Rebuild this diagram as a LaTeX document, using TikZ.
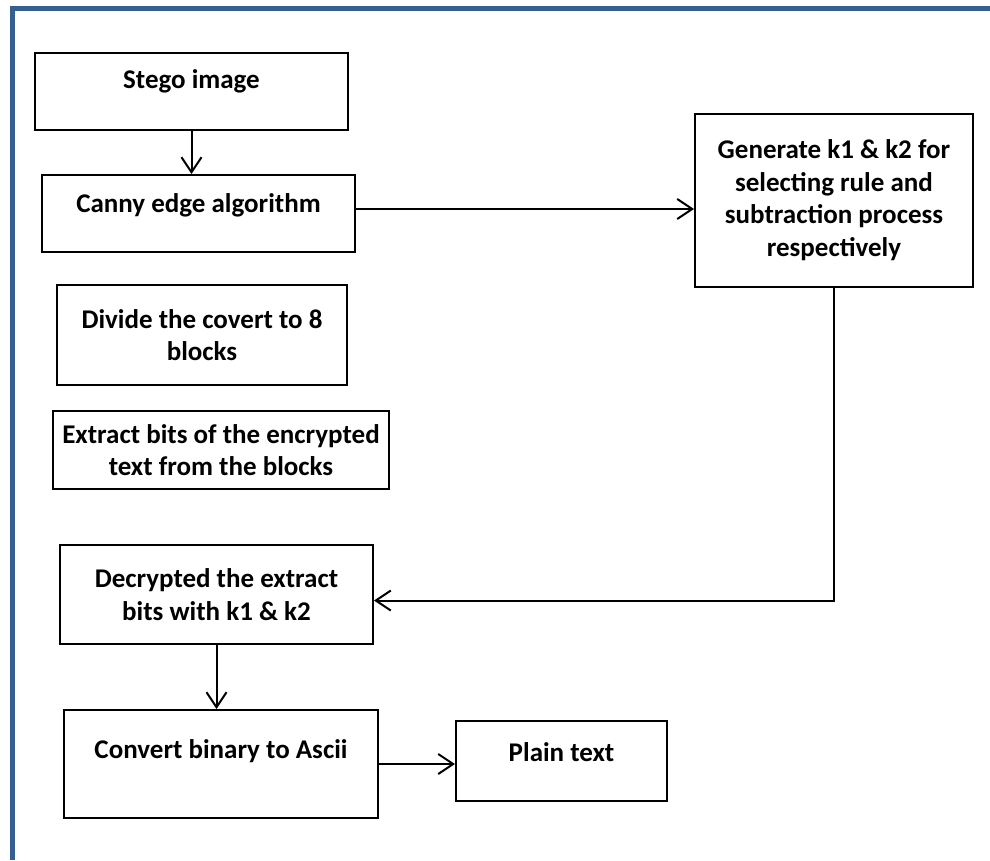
\documentclass[tikz,border=0pt]{standalone}
\usepackage{fontspec}
\setmainfont{Carlito}
\usetikzlibrary{arrows.meta}
\definecolor{frameblue}{HTML}{365F91}
\begin{document}
\begin{tikzpicture}[x=1pt, y=-1pt,
stepbox/.style={rectangle, draw=black, line width=2pt, font=\fontsize{27}{32.5}\selectfont\bfseries, align=center, inner sep=4pt},
flow/.style={-{Straight Barb[length=15pt,width=20pt]}, line width=2pt},
]
\useasboundingbox (0,0) rectangle (990,860);
%Frame
\draw[frameblue, line width=5pt] (12.5,860) -- (12.5,8.5) -- (990,8.5);

%Nodes
\node[stepbox, minimum width=313pt, minimum height=77pt, text height=18pt, text depth=22.6pt] (stego) at (191.5,91) {Stego image};
\node[stepbox, minimum width=313pt, minimum height=77pt, text height=18pt, text depth=20.6pt] (canny) at (198.5,213.5) {Canny edge algorithm};
\node[stepbox, minimum width=278pt, minimum height=173pt] (gen) at (834,200) {Generate k1 \& k2 for\\selecting rule and\\subtraction process\\respectively};
\node[stepbox, minimum width=290pt, minimum height=100pt] (divide) at (202,335) {Divide the covert to 8\\blocks};
\node[stepbox, minimum width=336pt, minimum height=78pt] (extract) at (221,450) {Extract bits of the encrypted\\text from the blocks};
\node[stepbox, minimum width=313pt, minimum height=99pt] (decr) at (216.5,594.5) {Decrypted the extract\\bits with k1 \& k2};
\node[stepbox, minimum width=314pt, minimum height=108pt, text height=18pt, text depth=28.6pt] (conv) at (221,764) {Convert binary to Ascii};
\node[stepbox, minimum width=211pt, minimum height=80pt, text height=18pt, text depth=16.6pt] (plain) at (561.5,760.5) {Plain text};

%Lines
\draw[flow] (stego.south) -- (stego.south |- canny.north);
\draw[flow] ([yshift=4.5pt]canny.east) -- ([yshift=4.5pt]canny.east -| gen.west);
\draw[flow] (gen.south) |- ([yshift=-6pt]decr.east);
\draw[flow] (decr.south) -- (decr.south |- conv.north);
\draw[flow] (conv.east) -- (conv.east -| plain.west);
\end{tikzpicture}
\end{document}
